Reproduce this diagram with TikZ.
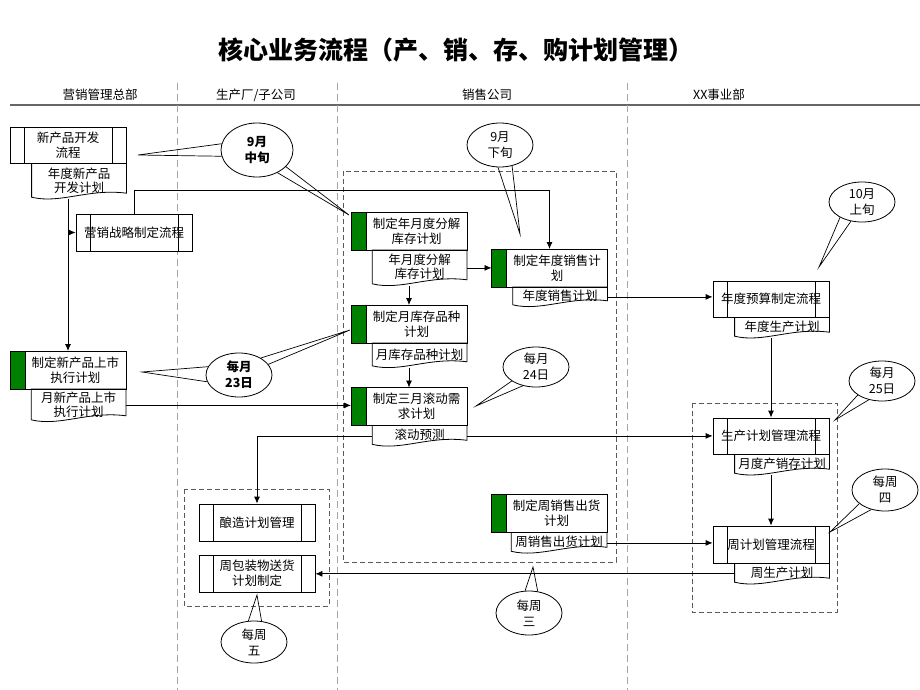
\documentclass[tikz,border=0pt]{standalone}
\usepackage{fontspec}
\setmainfont{Noto Sans CJK SC}
\usepackage{xcolor}
\usetikzlibrary{arrows.meta,shapes,positioning,calc}

\definecolor{barcol}{RGB}{0,128,0}
\definecolor{lanegray}{RGB}{165,165,165}
\definecolor{boxgray}{RGB}{90,90,90}

% document symbol with wavy bottom edge
\newcommand{\docshape}[1]{%
  \draw (#1.north west) -- (#1.north east) -- ([yshift=6pt]#1.south east)
    .. controls ($(#1.south west)!0.6!(#1.south east)+(0pt,11pt)$) and ($(#1.south west)!0.3!(#1.south east)+(0pt,-5pt)$)
    .. ([yshift=2pt]#1.south west) -- cycle;}

\tikzset{
  procbox/.style={draw, rectangle, fill=white, minimum width=116pt, minimum height=36pt, inner sep=1pt, align=center,
    path picture={
      \draw ([xshift=14pt]path picture bounding box.north west) -- ([xshift=14pt]path picture bounding box.south west);
      \draw ([xshift=-14pt]path picture bounding box.north east) -- ([xshift=-14pt]path picture bounding box.south east);}},
  bar/.style={draw, fill=barcol, minimum width=15pt, minimum height=38pt, inner sep=0pt, outer sep=0pt},
  taskbox/.style={draw, rectangle, fill=white, minimum width=101pt, minimum height=38pt, text width=97pt,
    align=center, inner sep=1pt, outer sep=0pt, label={[bar]west:}},
  docbox/.style={rectangle, minimum width=94pt, inner sep=1pt, align=center, text depth=3pt,
    font=\fontsize{12.5}{14}\selectfont},
  callout/.style={ellipse, draw, fill=white, minimum width=66pt, minimum height=44pt, inner sep=0pt, align=center,
    font=\fontsize{12.5}{16}\selectfont},
  pointer/.style={draw, line width=0.7pt},
  grpbox/.style={draw=boxgray, line width=1pt, dash pattern=on 5pt off 3pt},
  lane/.style={draw=lanegray, line width=0.7pt, dash pattern=on 7pt off 4pt}
}

\begin{document}
\begin{tikzpicture}[x=1pt, y=-1pt, line width=0.8pt, >={Latex[length=7pt,width=6pt]},
    font=\fontsize{12.5}{15}\selectfont]
    \useasboundingbox (0,0) rectangle (920,690);

    % title and lanes
    \node[font=\fontsize{25}{30}\selectfont\bfseries] (title) at (456,50) {核心业务流程（产、销、存、购计划管理）};
    \node (laneA) at (100,95) {营销管理总部};
    \node (laneB) at (256,95) {生产厂/子公司};
    \node (laneC) at (487,95) {销售公司};
    \node (laneD) at (719,95) {XX事业部};
    \draw[draw=gray!80!black, line width=1.6pt] (10,105) -- (920,105);
    \foreach \x in {177,337,627}
        \draw[lane] (\x,83) -- (\x,690);

    % dashed groups
    \draw[grpbox] (343,171) rectangle (616,562);
    \draw[grpbox] (692,403) rectangle (837,612);
    \draw[grpbox] (184,489) rectangle (329,606);

    % marketing headquarters
    \node[procbox] (newprod) at (68,145) {新产品开发\\流程};
    \node[docbox, minimum height=35pt, below left=0pt of newprod.south east] (newdoc) {年度新产品\\开发计划};
    \node[procbox, minimum height=37pt] (strategy) at (134,232.5) {营销战略制定流程};
    \node[taskbox] (launch) at (75.5,370) {制定新产品上市\\执行计划};
    \node[docbox, minimum height=32pt, below left=0pt of launch.south east] (launchdoc) {月新产品上市\\执行计划};

    % sales company
    \node[taskbox] (split) at (416.5,231) {制定年月度分解\\库存计划};
    \node[docbox, minimum height=35pt, below left=0pt of split.south east] (splitdoc) {年月度分解\\库存计划};
    \node[taskbox] (annual) at (557,268) {制定年度销售计\\划};
    \node[docbox, minimum height=19pt, below left=0pt of annual.south east] (annualdoc) {年度销售计划};
    \node[taskbox] (mix) at (416.5,324) {制定月库存品种\\计划};
    \node[docbox, minimum height=24pt, below left=0pt of mix.south east] (mixdoc) {月库存品种计划};
    \node[taskbox] (rolling) at (416.5,406.5) {制定三月滚动需\\求计划};
    \node[docbox, minimum height=20pt, below left=0pt of rolling.south east] (rollingdoc) {滚动预测};
    \node[taskbox] (weekly) at (556.5,513.5) {制定周销售出货\\计划};
    \node[docbox, minimum width=95pt, minimum height=20pt, below left=0pt of weekly.south east] (weeklydoc) {周销售出货计划};

    % business unit
    \node[procbox] (budget) at (771,299) {年度预算制定流程};
    \node[docbox, minimum height=20pt, below left=0pt of budget.south east] (budgetdoc) {年度生产计划};
    \node[procbox] (prodplan) at (771,436) {生产计划管理流程};
    \node[docbox, minimum height=20pt, below left=0pt of prodplan.south east] (prodplandoc) {月度产销存计划};
    \node[procbox, minimum height=37pt] (weekplan) at (771,544.5) {周计划管理流程};
    \node[docbox, minimum height=20pt, below left=0pt of weekplan.south east] (weekplandoc) {周生产计划};

    % factory
    \node[procbox, minimum height=37pt] (brew) at (257,522.5) {酿造计划管理};
    \node[procbox, minimum height=37pt] (pack) at (257,573.5) {周包装物送货\\计划制定};

    \foreach \d in {newdoc,launchdoc,splitdoc,annualdoc,mixdoc,rollingdoc,weeklydoc,budgetdoc,prodplandoc,weekplandoc}
        \docshape{\d};

    % flows
    \draw[->] (newprod |- newdoc.south) -- (newprod |- launch.north);
    \draw[->] (newprod |- strategy.west) -- (strategy.west);
    \draw[->] (strategy.north) -- ++(0,-23) -| ([xshift=-7.5pt]annual.north);
    \draw[->] (splitdoc.east) -- ([xshift=-15pt]splitdoc.east -| annual.west);
    \draw[->] ([xshift=-7.5pt]split.south |- splitdoc.south) -- ([xshift=-7.5pt]mix.north);
    \draw[->] ([xshift=-7.5pt]mix.south |- mixdoc.south) -- ([xshift=-7.5pt]rolling.north);
    \draw[->] (launchdoc.east) -- ([xshift=-15pt]launchdoc.east -| rolling.west);
    \draw[->] (annualdoc.east) -- (annualdoc.east -| budget.west);
    \draw[->] (rollingdoc.east) -- (rollingdoc.east -| prodplan.west);
    \draw[->] (rollingdoc.west) -| (brew.north);
    \draw[->] (budget |- budgetdoc.south) -- (prodplan.north);
    \draw[->] (prodplan |- prodplandoc.south) -- (weekplan.north);
    \draw[->] (weeklydoc.east) -- (weeklydoc.east -| weekplan.west);
    \draw[->] (weekplandoc.west) -- (weekplandoc.west -| pack.east);

    % timing callouts
    \node[callout, minimum width=72pt, minimum height=54pt, font=\fontsize{12.5}{16}\selectfont\bfseries] (midsep) at (257,150) {9月\\中旬};
    \node[callout] (latesep) at (500,145) {9月\\下旬};
    \node[callout, font=\fontsize{12.5}{16}\selectfont\bfseries] (day23) at (239,375) {每月\\23日};
    \node[callout, minimum height=40pt] (day24) at (536,367) {每月\\24日};
    \node[callout, minimum height=40pt] (earlyoct) at (862,202) {10月\\上旬};
    \node[callout, minimum height=40pt] (day25) at (882,381) {每月\\25日};
    \node[callout, minimum height=42pt] (thu) at (885,490) {每周\\四};
    \node[callout, minimum height=42pt] (fri) at (254,642) {每周\\五};
    \node[callout] (wed) at (529,613) {每周\\三};

    \coordinate (tipA) at (138,155);
    \coordinate (tipB) at (349,215);
    \coordinate (tipC) at (520,234);
    \coordinate (tipD) at (142,372);
    \coordinate (tipE) at (350,330);
    \coordinate (tipF) at (476,406);
    \coordinate (tipG) at (819,267);
    \coordinate (tipH) at (835,420);
    \coordinate (tipI) at (830,532);
    \coordinate (tipJ) at (257,595);
    \coordinate (tipK) at (533,567);

    \draw[pointer] (midsep.170) -- (tipA) -- (midsep.190);
    \draw[pointer] (midsep.312) -- (tipB) -- (midsep.330);
    \draw[pointer] (latesep.265) -- (tipC) -- (latesep.300);
    \draw[pointer] (day23.165) -- (tipD) -- (day23.192);
    \draw[pointer] (day23.20) -- (tipE) -- (day23.38);
    \draw[pointer] (day24.210) -- (tipF) -- (day24.235);
    \draw[pointer] (earlyoct.215) -- (tipG) -- (earlyoct.240);
    \draw[pointer] (day25.210) -- (tipH) -- (day25.235);
    \draw[pointer] (thu.208) -- (tipI) -- (thu.235);
    \draw[pointer] (fri.70) -- (tipJ) -- (fri.105);
    \draw[pointer] (wed.68) -- (tipK) -- (wed.100);
\end{tikzpicture}
\end{document}
